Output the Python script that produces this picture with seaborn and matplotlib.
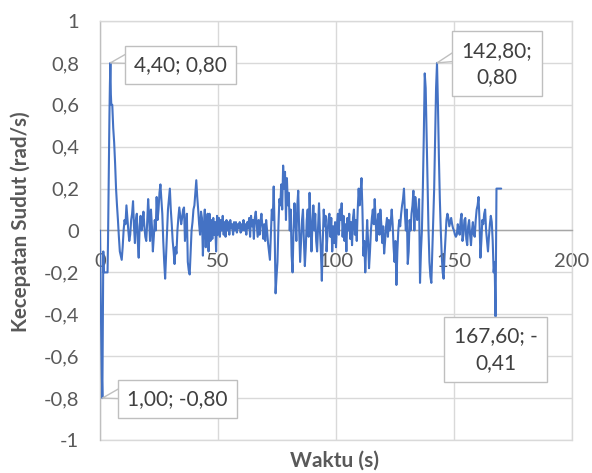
import numpy as np
import pandas as pd
import matplotlib
matplotlib.use("Agg")
import matplotlib.pyplot as plt
import seaborn as sns
from matplotlib.ticker import FuncFormatter

# ---------------- data ----------------
# first seconds sampled every 0.2 s
time_start = [0.0, 0.2, 0.4, 0.6, 0.8, 1.0, 1.2, 1.4, 1.6, 1.8, 2.0, 2.2, 2.4,
              2.6, 2.8, 3.0, 3.2, 3.4, 3.6, 3.8, 4.0, 4.2, 4.4, 4.6, 4.8]
speed_start = [0.0, -0.2, -0.4, -0.55, -0.7, -0.8, -0.45, -0.1, -0.2, -0.2, -0.2, -0.2, -0.2,
               -0.2, -0.2, -0.2, -0.2, -0.05, 0.15, 0.35, 0.55, 0.7, 0.8, 0.65, 0.6]

# afterwards: values read every 0.4 s, starting at 5.2 s
rest_start = 5.2
rest_step = 0.4
speed_rest = [
    0.6, 0.49, 0.42, 0.32, 0.2, 0.12, 0.05, -0.03, -0.1, -0.12,          # 5.2 - 8.8
    -0.14, -0.08, 0.0, 0.05, 0.03, 0.12, 0.06, 0.0, -0.05, -0.02,        # 9.2 - 12.8
    0.05, 0.08, 0.14, 0.02, -0.06, 0.05, 0.08, -0.05, -0.13, 0.02,       # 13.2 - 16.8
    0.07, 0.0, 0.03, 0.09, 0.02, -0.03, -0.05, 0.04, 0.15, 0.07,         # 17.2 - 20.8
    -0.05, 0.1, 0.02, -0.1, -0.03, 0.05, 0.0, 0.16, 0.05, 0.1,           # 21.2 - 24.8
    0.18, 0.22, 0.15, 0.08, -0.05, -0.15, -0.23, -0.12, 0.0, 0.1,        # 25.2 - 28.8
    0.15, 0.2, 0.1, 0.03, -0.05, -0.1, -0.16, -0.08, -0.11, 0.0,         # 29.2 - 32.8
    0.06, 0.11, 0.07, 0.03, 0.06, 0.1, 0.11, -0.05, 0.02, 0.08,          # 33.2 - 36.8
    -0.15, -0.19, -0.21, -0.1, 0.0, 0.04, 0.1, 0.12, 0.18, 0.24,         # 37.2 - 40.8
    0.16, 0.1, 0.03, -0.02, 0.09, 0.06, -0.12, 0.02, 0.1, -0.08,         # 41.2 - 44.8
    0.02, 0.08, -0.1, 0.08, -0.05, 0.05, -0.04, 0.06, -0.02, 0.04,       # 45.2 - 48.8
    -0.1, 0.07, -0.02, 0.06, -0.03, 0.05, 0.0, 0.07, -0.02, 0.04,        # 49.2 - 52.8
    -0.03, 0.05, 0.0, 0.04, -0.02, 0.05, 0.01, 0.03, -0.02, 0.04,        # 53.2 - 56.8
    0.0, 0.04, -0.01, 0.03, 0.01, 0.04, -0.01, 0.03, 0.0, 0.05,          # 57.2 - 60.8
    0.0, 0.03, -0.02, 0.04, 0.01, 0.06, -0.03, 0.07, 0.02, 0.05,         # 61.2 - 64.8
    -0.04, 0.06, 0.09, 0.03, -0.03, 0.05, -0.02, 0.04, 0.08, 0.02,       # 65.2 - 68.8
    -0.04, 0.03, -0.05, 0.05, 0.0, -0.06, -0.1, -0.14, -0.02, 0.1,       # 69.2 - 72.8
    0.05, 0.21, 0.0, -0.3, -0.22, -0.15, 0.02, 0.15, 0.12, 0.22,         # 73.2 - 76.8
    0.1, 0.31, 0.2, 0.28, 0.05, 0.25, 0.12, 0.18, 0.0, 0.1,              # 77.2 - 80.8
    -0.12, -0.2, 0.0, 0.13, 0.05, -0.05, 0.12, 0.19, 0.0, -0.15,         # 81.2 - 84.8
    -0.05, 0.05, 0.1, -0.05, -0.17, -0.08, 0.05, 0.1, -0.03, 0.18,       # 85.2 - 88.8
    0.05, -0.1, 0.02, 0.12, 0.0, 0.08, -0.05, -0.1, 0.02, 0.13,          # 89.2 - 92.8
    0.0, -0.1, -0.24, -0.05, 0.1, 0.02, 0.07, -0.1, -0.02, 0.05,         # 93.2 - 96.8
    0.08, -0.03, 0.06, -0.1, 0.02, -0.06, 0.04, -0.08, 0.03, 0.08,       # 97.2 - 100.8
    -0.02, 0.1, 0.05, 0.13, -0.03, 0.07, -0.05, 0.03, -0.1, 0.06,        # 101.2 - 104.8
    0.0, 0.08, -0.04, 0.04, -0.07, 0.06, 0.1, -0.02, 0.05, -0.05,        # 105.2 - 108.8
    0.1, 0.2, 0.12, 0.18, 0.25, 0.1, -0.12, -0.05, -0.2, -0.08,          # 109.2 - 112.8
    0.05, -0.05, -0.18, -0.1, 0.0, 0.06, 0.1, 0.03, 0.15, 0.05,          # 113.2 - 116.8
    -0.05, 0.04, 0.08, -0.02, 0.1, 0.03, -0.06, 0.02, -0.11, -0.05,      # 117.2 - 120.8
    0.02, 0.06, -0.03, 0.05, 0.0, 0.04, 0.1, 0.03, -0.08, -0.15,         # 121.2 - 124.8
    -0.05, -0.26, -0.1, 0.0, 0.05, 0.02, 0.08, 0.12, 0.15, 0.2,          # 125.2 - 128.8
    0.08, 0.0, 0.1, -0.16, -0.1, 0.05, 0.0, 0.08, 0.12, 0.19,            # 129.2 - 132.8
    0.0, 0.16, 0.1, 0.05, 0.08, 0.15, -0.25, -0.1, 0.0, 0.2,             # 133.2 - 136.8
    0.45, 0.75, 0.68, 0.45, 0.2, 0.0, -0.15, -0.22, -0.25, -0.1,         # 137.2 - 140.8
    0.05, 0.2, 0.45, 0.68, 0.8, 0.6, 0.35, 0.15, 0.0, -0.12,             # 141.2 - 144.8
    -0.2, -0.23, -0.12, -0.03, 0.05, 0.08, 0.06, 0.02, 0.04, 0.06,       # 145.2 - 148.8
    0.03, 0.01, 0.0, -0.02, -0.03, -0.02, 0.03, 0.0, -0.02, 0.05,        # 149.2 - 152.8
    0.08, -0.05, -0.02, 0.05, 0.06, -0.04, -0.07, 0.02, 0.05, -0.02,     # 153.2 - 156.8
    -0.07, 0.0, 0.04, -0.02, -0.03, 0.05, 0.1, 0.12, 0.16, 0.05,         # 157.2 - 160.8
    -0.13, -0.05, 0.05, 0.03, 0.08, 0.1, 0.0, -0.05, -0.1, -0.03,        # 161.2 - 164.8
    0.03, 0.07, 0.04, -0.05, -0.2, -0.15, -0.41, 0.2, 0.2, 0.2,          # 165.2 - 168.8
    0.2, 0.2, 0.2,                                                       # 169.2 - 170.0
]

x_ticks = [0, 50, 100, 150, 200]
y_ticks = [-1, -0.8, -0.6, -0.4, -0.2, 0, 0.2, 0.4, 0.6, 0.8, 1]

callout_times = [4.4, 142.8, 167.6, 1.0]
callout_texts = ["4,40; 0,80", "142,80;\n0,80", "167,60; -\n0,41", "1,00; -0,80"]

x_label = "Waktu (s)"
y_label = "Kecepatan Sudut (rad/s)"

# ---------------- build frame ----------------
time_rest = np.round(rest_start + rest_step * np.arange(len(speed_rest)), 1)
df = pd.DataFrame({
    "t": np.concatenate([np.array(time_start), time_rest]),
    "v": np.concatenate([np.array(speed_start), np.array(speed_rest)]),
})

# ---------------- style ----------------
sns.set_theme(style="white")
plt.rcParams["font.family"] = ["Lato", "DejaVu Sans"]

LINE = "#4472C4"
GRID = "#d9d9d9"
TXT = "#595959"
BOX_EC = "#bfbfbf"

fig = plt.figure(figsize=(5.92, 4.73), dpi=100)
ax = fig.add_axes([100 / 592, 1 - 440 / 473, 472 / 592, 419 / 473])
ax.set_facecolor("white")

sns.lineplot(data=df, x="t", y="v", ax=ax, color=LINE, linewidth=1.5,
             estimator=None, sort=False, zorder=3)

ax.set_xlim(0, 200)
ax.set_ylim(-1, 1)
ax.set_xticks(x_ticks)
ax.set_yticks(y_ticks)
ax.grid(True, color=GRID, linewidth=1.0, zorder=0)
ax.set_axisbelow(True)

def yfmt(v, pos):
    s = f"{round(v, 1):g}"
    if s == "-0":
        s = "0"
    return s.replace(".", ",")

ax.yaxis.set_major_formatter(FuncFormatter(yfmt))
ax.xaxis.set_major_formatter(FuncFormatter(lambda v, p: f"{v:g}"))

for side in ["top", "right"]:
    ax.spines[side].set_visible(True)
    ax.spines[side].set_color(GRID)
    ax.spines[side].set_linewidth(1.0)
ax.spines["left"].set_color("#bfbfbf")
ax.spines["left"].set_linewidth(1.0)
ax.spines["bottom"].set_position(("data", 0))
ax.spines["bottom"].set_color("#a6a6a6")
ax.spines["bottom"].set_linewidth(1.0)
ax.axhline(-1, color=GRID, linewidth=1.0, clip_on=False, zorder=0)

ax.tick_params(axis="both", length=0, labelsize=14.5, labelcolor=TXT)
ax.tick_params(axis="x", pad=16)
ax.tick_params(axis="y", pad=15)
ax.set_xlabel("")
ax.set_ylabel("")

fig.text(21 / 592, 1 - 222 / 473, y_label, rotation=90, ha="center", va="center",
         fontsize=14.8, fontweight="bold", color=TXT)
fig.text(335 / 592, 1 - 461 / 473, x_label, ha="center", va="center",
         fontsize=15, fontweight="bold", color=TXT)

# ---------------- callouts ----------------
# text-centre offset (pixels) and pointer-base offset (pixels) from the data point
text_offsets = [(70, -2), (60, -1), (0, -33), (75, -1)]
tail_offsets = [(24, 6), (26, 9), None, (24, 6)]
for tt, txt, off, tail in zip(callout_times, callout_texts, text_offsets, tail_offsets):
    row = df.loc[(df["t"] - tt).abs().idxmin()]
    xy = (row["t"], row["v"])
    if tail is not None:
        ax.annotate("", xy=xy, xytext=tail, textcoords="offset pixels", zorder=4,
                    annotation_clip=False,
                    arrowprops=dict(arrowstyle="wedge,tail_width=10,shrink_factor=0.5",
                                    mutation_scale=1, fc="white", ec=BOX_EC, lw=1.0,
                                    shrinkA=0, shrinkB=0))
    ax.annotate(txt, xy=xy, xytext=off, textcoords="offset pixels",
                ha="center", va="center", multialignment="center", linespacing=1.4,
                fontsize=15, color="#404040", zorder=5,
                bbox=dict(boxstyle="square,pad=0.45", fc="white", ec=BOX_EC, lw=1.0),
                annotation_clip=False)

fig.savefig("out.png", dpi=100, facecolor="white")
